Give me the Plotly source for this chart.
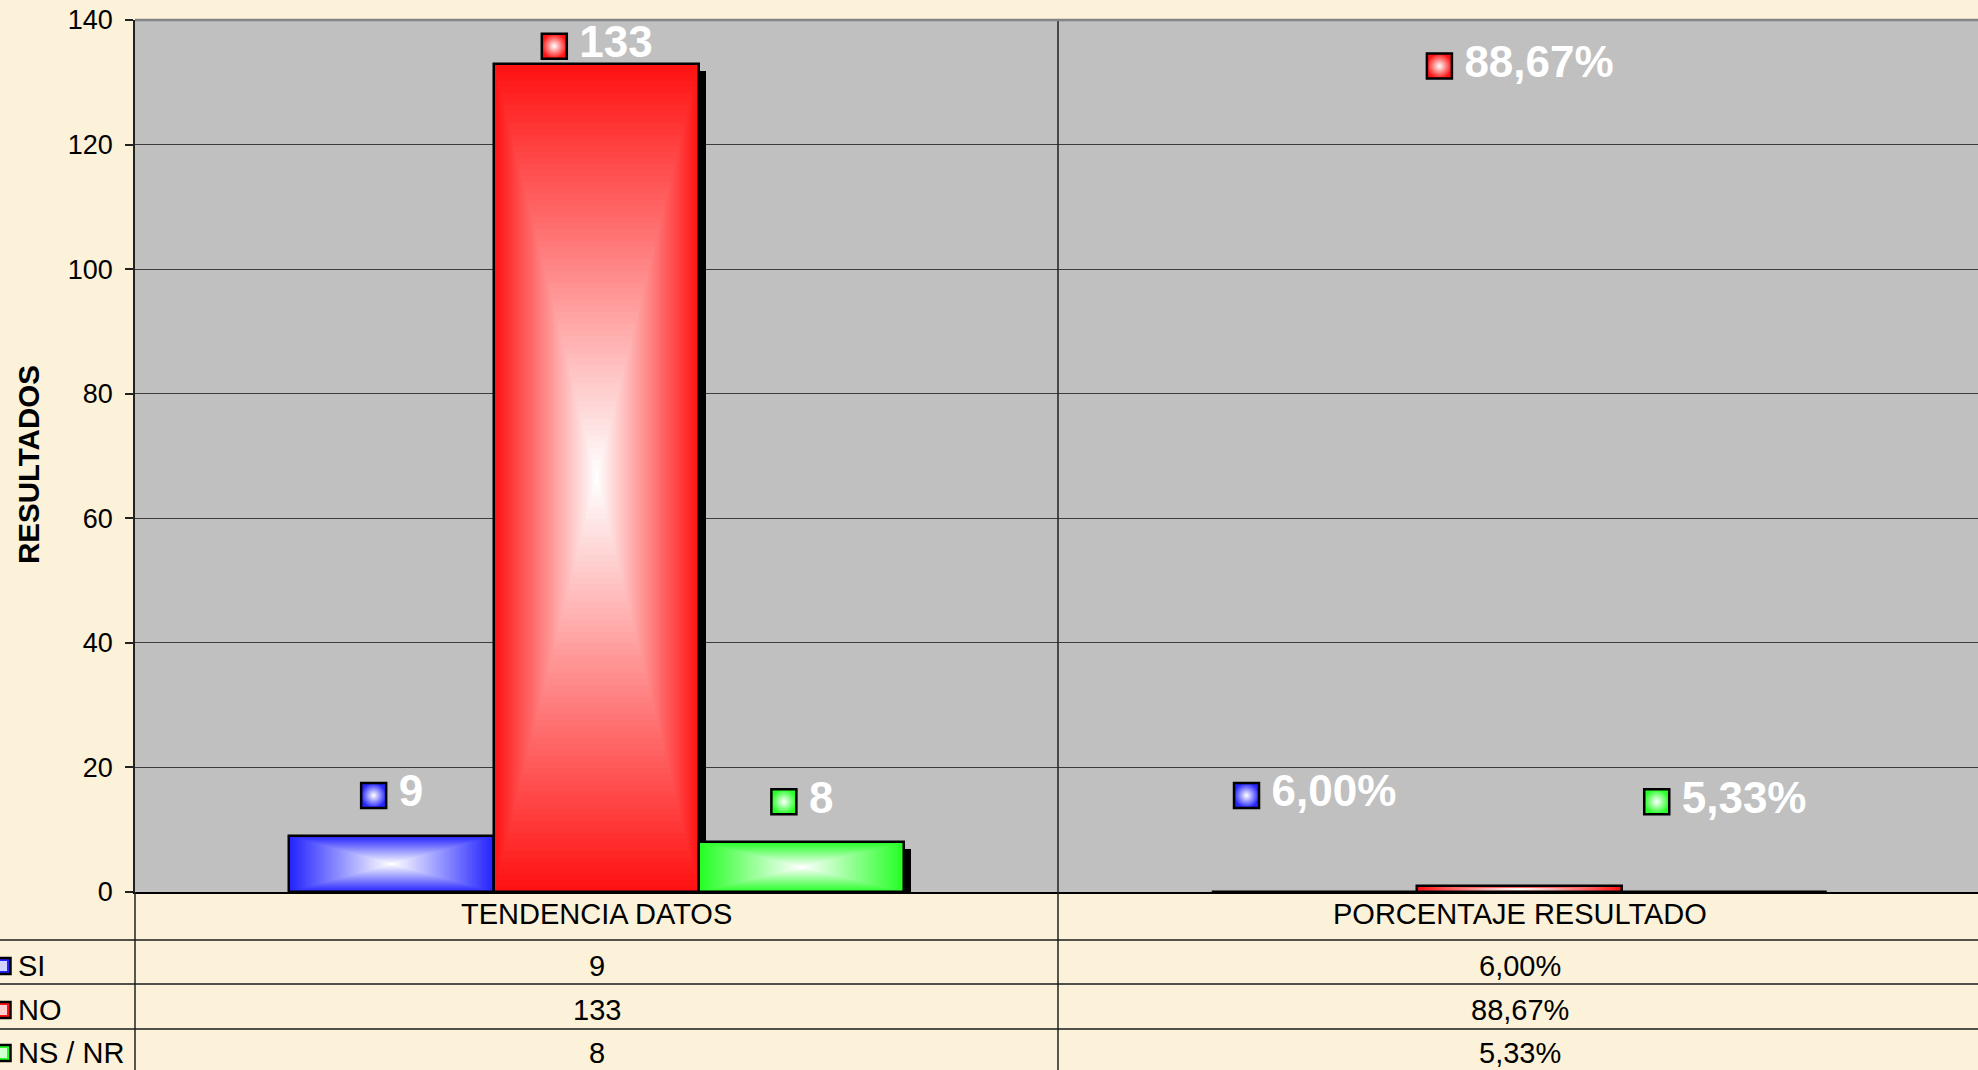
import plotly.graph_objects as go

# ---------------- data ----------------
categories = ["TENDENCIA DATOS", "PORCENTAJE RESULTADO"]
series_names = ["SI", "NO", "NS / NR"]
counts = [9, 133, 8]
percentages = [0.06, 0.8867, 0.0533]
count_labels = ["9", "133", "8"]
percent_labels = ["6,00%", "88,67%", "5,33%"]
series_colors = ["#2424FF", "#FF1212", "#24FF24"]
y_ticks = [0, 20, 40, 60, 80, 100, 120, 140]

# ---------------- geometry / style ----------------
W, H = 1978, 1070
PL, PT, PB = 135, 20, 892          # plot left, plot top, zero-line (px)
CAT_PX = 923.0                     # pixels per category
Y_MAX = 140
x_range = [-0.5, -0.5 + (W - PL) / CAT_PX]
PX_Y = (PB - PT) / Y_MAX
FONT = "Liberation Sans, Arial, sans-serif"
BAR_W = 2.0 / 9.0                  # Excel gap width 150 %
offsets = [-BAR_W, 0.0, BAR_W]
N_STEPS = 70
BG = "#FCF1D9"


def pap_x(px):
    return px / W


def pap_y(py):
    return 1 - py / H


def hex_rgb(h):
    h = h.lstrip("#")
    return tuple(int(h[i:i + 2], 16) for i in (0, 2, 4))


def lerp_white(h, t):
    r, g, b = hex_rgb(h)
    return "rgb(%d,%d,%d)" % (r + (255 - r) * t, g + (255 - g) * t, b + (255 - b) * t)


def bold_width(s, size):
    w = 0.0
    for ch in s:
        if ch.isdigit():
            w += 0.556
        elif ch == ",":
            w += 0.278
        elif ch == "%":
            w += 0.889
        else:
            w += 0.6
    return w * size


fig = go.Figure()
cat_x = list(range(len(categories)))
values_by_series = [[counts[s], percentages[s]] for s in range(len(series_names))]

# shadows
sdx, sdy = 7 / CAT_PX, 7 / PX_Y
for s in range(len(series_names)):
    vals = values_by_series[s]
    fig.add_trace(go.Bar(
        x=[c + offsets[s] + sdx for c in cat_x],
        y=[max(v - sdy, 0) for v in vals],
        width=BAR_W, marker=dict(color="black", line=dict(width=0)),
        showlegend=False, hoverinfo="skip"))

# gradient bars (concentric rectangles, edge colour -> white centre)
for s in range(len(series_names)):
    vals = values_by_series[s]
    for k in range(N_STEPS):
        t = k / N_STEPS
        fig.add_trace(go.Bar(
            x=[c + offsets[s] for c in cat_x],
            y=[v * (1 - t) for v in vals],
            base=[v * t / 2 for v in vals],
            width=BAR_W * (1 - t),
            marker=dict(color=lerp_white(series_colors[s], k / (N_STEPS - 1)),
                        line=dict(width=0)),
            showlegend=False, hoverinfo="skip"))

# outlines
for s in range(len(series_names)):
    fig.add_trace(go.Bar(
        x=[c + offsets[s] for c in cat_x],
        y=values_by_series[s],
        width=BAR_W,
        marker=dict(color="rgba(0,0,0,0)", line=dict(color="black", width=2.5)),
        name=series_names[s], showlegend=False,
        hovertemplate="%{y}<extra>" + series_names[s] + "</extra>"))

# data labels: legend key square + white bold text, centred over each bar
LBL_SIZE = 44
label_caps = [135.8, 132.6]
label_pad = 6.5
for s in range(len(series_names)):
    texts = [count_labels[s], percent_labels[s]]
    mx, tx, ys = [], [], []
    for ci, c in enumerate(cat_x):
        bc = c + offsets[s]
        tw = bold_width(texts[ci], LBL_SIZE)
        sc = bc - ((11 + tw) / 2) / CAT_PX
        mx.append(sc)
        tx.append(sc + 25 / CAT_PX)
        ys.append(min(counts[s] + label_pad, label_caps[ci]))
    fig.add_trace(go.Scatter(
        x=mx, y=ys, mode="markers", showlegend=False, hoverinfo="skip",
        marker=dict(symbol="square", size=25, color=series_colors[s],
                    gradient=dict(type="radial", color="white"),
                    line=dict(color="black", width=2.5)),
        cliponaxis=False))
    fig.add_trace(go.Scatter(
        x=tx, y=ys, mode="text", text=texts, textposition="middle right",
        textfont=dict(family=FONT, size=LBL_SIZE, color="white", weight="bold"),
        showlegend=False, hoverinfo="skip", cliponaxis=False))

# ---------------- layout ----------------
row_py = [966, 1010, 1053]
shapes = []
shapes.append(dict(type="line", xref="x", yref="paper", x0=0.5, x1=0.5,
                   y0=0, y1=pap_y(PT), line=dict(color="#222222", width=1.5),
                   layer="above"))
shapes.append(dict(type="line", xref="paper", yref="paper", x0=pap_x(PL), x1=pap_x(PL),
                   y0=0, y1=pap_y(PB), line=dict(color="#222222", width=1.5),
                   layer="above"))
for py in [940, 984, 1029]:
    shapes.append(dict(type="line", xref="paper", yref="paper", x0=0, x1=1,
                       y0=pap_y(py), y1=pap_y(py),
                       line=dict(color="#1a1a1a", width=1.5), layer="above"))
shapes.append(dict(type="line", xref="paper", yref="paper", x0=pap_x(PL), x1=1,
                   y0=pap_y(PT), y1=pap_y(PT), line=dict(color="#858585", width=2.5),
                   layer="above"))
# legend keys of the data table
for s in range(len(series_names)):
    cy = row_py[s]
    shapes.append(dict(type="rect", xref="paper", yref="paper",
                       x0=pap_x(-6), x1=pap_x(10.5), y0=pap_y(cy + 8), y1=pap_y(cy - 8),
                       fillcolor=series_colors[s], line=dict(color="black", width=2.5),
                       layer="above"))
    shapes.append(dict(type="rect", xref="paper", yref="paper",
                       x0=pap_x(-3), x1=pap_x(7), y0=pap_y(cy + 5), y1=pap_y(cy - 5),
                       fillcolor=lerp_white(series_colors[s], 0.8), line=dict(width=0),
                       layer="above"))

annotations = []
TBL_SIZE = 29
for ci, c in enumerate(cat_x):
    cx_px = PL + (c - x_range[0]) * CAT_PX
    annotations.append(dict(x=pap_x(cx_px), y=pap_y(914), xref="paper", yref="paper",
                            text=categories[ci], showarrow=False, xanchor="center",
                            yanchor="middle",
                            font=dict(family=FONT, size=TBL_SIZE, color="black")))
    col = count_labels if ci == 0 else percent_labels
    for s in range(len(series_names)):
        annotations.append(dict(x=pap_x(cx_px), y=pap_y(row_py[s]), xref="paper",
                                yref="paper", text=col[s], showarrow=False,
                                xanchor="center", yanchor="middle",
                                font=dict(family=FONT, size=TBL_SIZE, color="black")))
for s in range(len(series_names)):
    annotations.append(dict(x=pap_x(16), y=pap_y(row_py[s]), xref="paper", yref="paper",
                            text=series_names[s], showarrow=False, xanchor="left",
                            yanchor="middle",
                            font=dict(family=FONT, size=TBL_SIZE, color="black")))
annotations.append(dict(x=pap_x(28), y=pap_y(465), xref="paper", yref="paper",
                        text="<b>RESULTADOS</b>", textangle=-90, showarrow=False,
                        xanchor="center", yanchor="middle",
                        font=dict(family=FONT, size=29.5, color="black")))

fig.update_layout(
    width=W, height=H,
    autosize=False,
    margin=dict(l=0, r=0, t=0, b=0, pad=0, autoexpand=False),
    paper_bgcolor=BG,
    plot_bgcolor="#C0C0C0",
    barmode="overlay",
    bargap=0,
    showlegend=False,
    font=dict(family=FONT, color="black"),
    xaxis=dict(domain=[pap_x(PL), 1], range=x_range, showticklabels=False,
               showgrid=False, zeroline=False, showline=True, linecolor="black",
               linewidth=2, ticks="", fixedrange=True, automargin=False),
    yaxis=dict(domain=[pap_y(PB), pap_y(PT)], range=[0, Y_MAX], tickvals=y_ticks,
               ticks="outside", ticklen=8, tickwidth=1.5, tickcolor="#222222",
               tickfont=dict(family=FONT, size=27, color="black"),
               ticklabelstandoff=7,
               showgrid=True, gridcolor="#3c3c3c", gridwidth=1.3,
               zeroline=False, showline=True, linecolor="#222222", linewidth=1.5,
               fixedrange=True, automargin=False),
    shapes=shapes,
    annotations=annotations,
)

fig.write_html(
    "out.html",
    config={"displayModeBar": False},
    post_script="document.body.style.margin='0';document.body.style.overflow='hidden';"
                "document.body.style.background='" + BG + "';",
)
